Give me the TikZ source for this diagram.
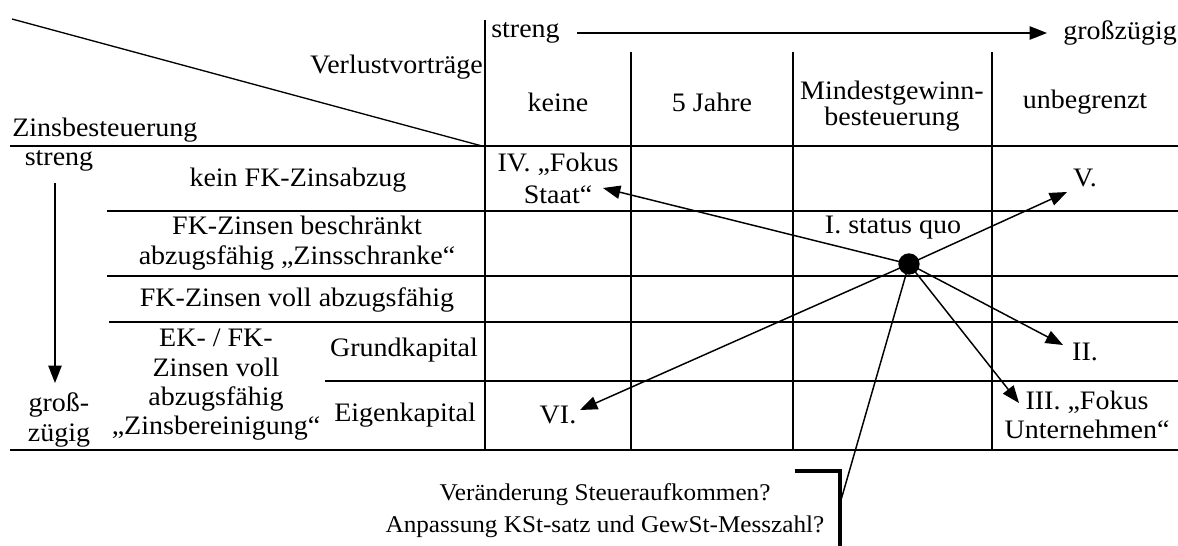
\documentclass[tikz,border=0pt]{standalone}
\usepackage{fontspec}
\setmainfont{Liberation Serif}[FakeStretch=1.05]
\usetikzlibrary{arrows.meta}
\begin{document}
\begin{tikzpicture}[x=0.75pt,y=-0.75pt,
  grid/.style={line width=1.3pt},
  txt/.style={font=\fontsize{20}{22}\selectfont, inner sep=0pt, align=center},
  arr/.style={line width=1.1pt, -{Triangle[length=13pt,width=10pt]}},
  plain/.style={line width=1.1pt},
  dotnode/.style={circle, fill=black, inner sep=0pt, minimum size=16pt},
]
\useasboundingbox (0,0) rectangle (1178,546);

% table lines
\draw[line width=1pt] (12,19) -- (482,146);
\draw[grid] (10,146) -- (1178,146);
\draw[grid] (10,450) -- (1178,450);
\draw[grid] (107,211) -- (1178,211);
\draw[grid] (107,276) -- (1178,276);
\draw[grid] (109,322) -- (1178,322);
\draw[grid] (325,381) -- (1178,381);
\draw[grid] (485,20) -- (485,450);
\draw[grid] (631,52) -- (631,450);
\draw[grid] (793,52) -- (793,450);
\draw[grid] (992,52) -- (992,450);

% header
\node[txt, anchor=east] (vv) at (483,67) {Verlustvorträge};
\node[txt, anchor=west] (zb) at (12,130) {Zinsbesteuerung};
\node[txt, anchor=west] (st) at (491,33) {streng};
\node[txt, anchor=west] (gz) at (1063,33) {großzügig};
\draw[arr, shorten <=13pt, shorten >=12pt] (st.east) -- (st.east -| gz.west);

\node[txt] (c1) at (558,102) {keine};
\node[txt] (c2) at (712,102) {5 Jahre};
\node[txt, font=\fontsize{20}{20}\selectfont] (c3) at (892,106) {Mindestgewinn-\\besteuerung};
\node[txt] (c4) at (1085,102) {unbegrenzt};

% left column
\node[txt] (ls) at (59,161) {streng};
\node[txt] (lg) at (59,420) {groß-\\zügig};
\coordinate (va) at (55,183);
\coordinate (vb) at (55,383);
\draw[arr] (va) -- (vb);

\node[txt] (r1) at (298,180) {kein FK-Zinsabzug};
\node[txt] (r2) at (297,243) {FK-Zinsen beschränkt\\abzugsfähig „Zinsschranke“};
\node[txt] (r3) at (297,300) {FK-Zinsen voll abzugsfähig};
\node[txt] (r4) at (216,385) {EK- / FK-\\Zinsen voll\\abzugsfähig\\„Zinsbereinigung“};
\node[txt] (r4a) at (404,350) {Grundkapital};
\node[txt] (r4b) at (405,415) {Eigenkapital};

% scenario labels
\node[txt, font=\fontsize{20}{24}\selectfont] (s4) at (558,178) {IV. „Fokus\\Staat“};
\node[txt] (s1) at (893,228) {I. status quo};
\node[txt] (s5) at (1085,178) {V.};
\node[txt] (s2) at (1085,352) {II.};
\node[txt] (s3) at (1087,415) {III. „Fokus\\Unternehmen“};
\node[txt] (s6) at (558,415) {VI.};

\node[dotnode] (sq) at (909,264) {};
\coordinate (tIV) at (603,188);
\coordinate (tV) at (1067,192);
\coordinate (tII) at (1063,345);
\coordinate (tIII) at (1019,403);
\coordinate (tVI) at (580,410);
\draw[arr] (sq.center) -- (tIV);
\draw[arr] (sq.center) -- (tV);
\draw[arr] (sq.center) -- (tII);
\draw[arr] (sq.center) -- (tIII);
\draw[arr] (sq.center) -- (tVI);

% bottom note
\node[txt, font=\fontsize{18}{24}\selectfont] (bn) at (605,511) {Veränderung Steueraufkommen?\\Anpassung KSt-satz und GewSt-Messzahl?};
\coordinate (bl) at (841,500);
\draw[plain] (sq.center) -- (bl);
\draw[line width=2.6pt] (795,471) -- (840,471) -- (840,546);
\end{tikzpicture}
\end{document}
